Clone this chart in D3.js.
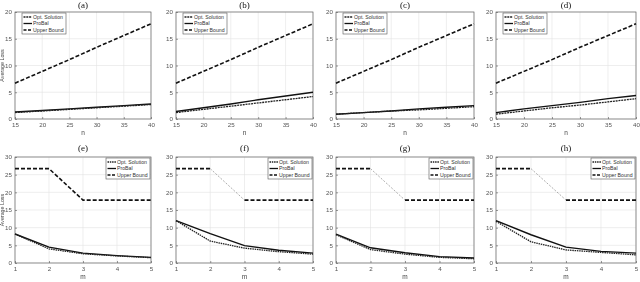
<!DOCTYPE html>
<html>
<head>
<meta charset="utf-8">
<script src="https://cdn.jsdelivr.net/npm/d3@7"></script>
<style>
  html, body { margin: 0; padding: 0; background: #fff; }
  svg { display: block; opacity: 0.999; }
</style>
</head>
<body>
<svg id="chart" width="640" height="282"></svg>
<script>
// x 取值
const nValues = [15, 20, 25, 30, 35, 40];
const mValues = [1, 2, 3, 4, 5];

// 上排 (a)-(d)：随 n 变化
const upperN = [6.7, 8.9, 11.1, 13.4, 15.6, 17.8];
const optA = [1.2, 1.5, 1.8, 2.1, 2.4, 2.7];
const proA = [1.3, 1.6, 1.9, 2.2, 2.5, 2.8];
const optB = [1.2, 1.8, 2.4, 3.0, 3.6, 4.2];
const proB = [1.4, 2.1, 2.8, 3.6, 4.3, 5.0];
const optC = [0.9, 1.2, 1.5, 1.7, 2.0, 2.3];
const proC = [0.9, 1.2, 1.5, 1.9, 2.2, 2.5];
const optD = [0.9, 1.5, 2.1, 2.6, 3.2, 3.8];
const proD = [1.2, 1.9, 2.5, 3.1, 3.8, 4.4];

// 下排 (e)-(h)：随 m 变化
const upperM = [26.7, 26.7, 17.8, 17.8, 17.8];
const optE = [8.2, 4.0, 2.6, 2.0, 1.5];
const proE = [8.2, 4.5, 2.8, 2.1, 1.6];
const optF = [12.0, 6.2, 4.2, 3.2, 2.5];
const proF = [12.0, 8.3, 4.9, 3.6, 2.8];
const optG = [8.0, 3.8, 2.5, 1.6, 1.2];
const proG = [8.2, 4.3, 2.9, 1.8, 1.4];
const optH = [11.8, 6.0, 3.7, 3.0, 2.3];
const proH = [12.0, 8.0, 4.5, 3.3, 2.8];

const titles = ['(a)', '(b)', '(c)', '(d)', '(e)', '(f)', '(g)', '(h)'];
const legendLabels = ['Opt. Solution', 'ProBal', 'Upper Bound'];
const yTicksTop = [0, 5, 10, 15, 20];
const yTicksBottom = [0, 5, 10, 15, 20, 25, 30];

const lefts = [15, 176, 336, 496];
const rights = [151, 313, 474, 636];

const panels = [
  { x: nValues, opt: optA, pro: proA, up: upperN },
  { x: nValues, opt: optB, pro: proB, up: upperN },
  { x: nValues, opt: optC, pro: proC, up: upperN },
  { x: nValues, opt: optD, pro: proD, up: upperN },
  { x: mValues, opt: optE, pro: proE, up: upperM },
  { x: mValues, opt: optF, pro: proF, up: upperM, thinSlope: true },
  { x: mValues, opt: optG, pro: proG, up: upperM, thinSlope: true },
  { x: mValues, opt: optH, pro: proH, up: upperM, thinSlope: true },
];

const svg = d3.select('#chart');
const tickFont = 'Liberation Sans, Arial, sans-serif';

panels.forEach((p, i) => {
  const row = i < 4 ? 0 : 1;
  const col = i % 4;
  const top = row === 0 ? 12 : 157;
  const bottom = row === 0 ? 119 : 263;
  const L = lefts[col], R = rights[col];
  const yMax = row === 0 ? 20 : 30;
  const x = d3.scaleLinear().domain(d3.extent(p.x)).range([L, R]);
  const y = d3.scaleLinear().domain([0, yMax]).range([bottom, top]);
  const g = svg.append('g');

  // 网格
  const xt = p.x;
  const yt = row === 0 ? yTicksTop : yTicksBottom;
  g.selectAll('line.gx').data(xt).enter().append('line')
    .attr('x1', (d) => x(d)).attr('x2', (d) => x(d)).attr('y1', top).attr('y2', bottom)
    .attr('stroke', '#e3e3e3').attr('stroke-width', 0.6);
  g.selectAll('line.gy').data(yt).enter().append('line')
    .attr('y1', (d) => y(d)).attr('y2', (d) => y(d)).attr('x1', L).attr('x2', R)
    .attr('stroke', '#e3e3e3').attr('stroke-width', 0.6);

  // 坐标轴
  const fmt = d3.format('d');
  const xAxis = d3.axisBottom(x).tickValues(xt).tickFormat(fmt).tickSize(-2).tickPadding(4);
  const yAxis = d3.axisLeft(y).tickValues(yt).tickFormat(fmt).tickSize(-2).tickPadding(3);
  const gx = g.append('g').attr('transform', `translate(0,${bottom})`).call(xAxis);
  const gy = g.append('g').attr('transform', `translate(${L},0)`).call(yAxis);
  [gx, gy].forEach((a) => {
    a.select('.domain').remove();
    a.selectAll('line').attr('stroke', '#555').attr('stroke-width', 0.6);
    a.selectAll('text').attr('font-size', 6.2).attr('font-family', tickFont).attr('fill', '#555');
  });
  g.append('rect').attr('x', L).attr('y', top).attr('width', R - L).attr('height', bottom - top)
    .attr('fill', 'none').attr('stroke', '#666').attr('stroke-width', 0.7);

  // 轴标签
  g.append('text').attr('x', (L + R) / 2).attr('y', bottom + 16).attr('text-anchor', 'middle')
    .attr('font-size', 6.5).attr('font-family', tickFont).attr('fill', '#444')
    .text(row === 0 ? 'n' : 'm');
  if (col === 0) {
    g.append('text').attr('transform', `translate(${4},${(top + bottom) / 2}) rotate(-90)`)
      .attr('text-anchor', 'middle').attr('font-size', 5.3).attr('font-family', tickFont).attr('fill', '#444')
      .text('Average Loss');
  }

  // 标题
  g.append('text').attr('x', (L + R) / 2).attr('y', top - (row === 0 ? 4 : 6)).attr('text-anchor', 'middle')
    .attr('font-size', 9).attr('font-family', 'Liberation Serif, Times New Roman, serif').attr('fill', '#111')
    .text(titles[i]);

  // 曲线
  const pts = (arr) => arr.map((v, k) => [p.x[k], v]);
  const line = d3.line().x((d) => x(d[0])).y((d) => y(d[1]));
  const optDash = row === 0 ? '2,0.8' : '1.5,0.8';
  g.append('path').attr('d', line(pts(p.pro))).attr('fill', 'none')
    .attr('stroke', '#111').attr('stroke-width', 1.4);
  g.append('path').attr('d', line(pts(p.opt))).attr('fill', 'none')
    .attr('stroke', '#222').attr('stroke-width', 1.3).attr('stroke-dasharray', optDash);
  if (p.thinSlope) {
    const up = pts(p.up);
    g.append('path').attr('d', line(up.slice(0, 2))).attr('fill', 'none')
      .attr('stroke', '#111').attr('stroke-width', 1.6).attr('stroke-dasharray', '4,2');
    g.append('path').attr('d', line(up.slice(1, 3))).attr('fill', 'none')
      .attr('stroke', '#777').attr('stroke-width', 0.6).attr('stroke-dasharray', '2,1.5');
    g.append('path').attr('d', line(up.slice(2))).attr('fill', 'none')
      .attr('stroke', '#111').attr('stroke-width', 1.6).attr('stroke-dasharray', '4,2');
  } else {
    g.append('path').attr('d', line(pts(p.up))).attr('fill', 'none')
      .attr('stroke', '#111').attr('stroke-width', 1.6).attr('stroke-dasharray', '4,2');
  }

  // 图例
  const lw = 44, lh = 21;
  const lx = row === 0 ? L + 7 : R - lw - 1;
  const ly = top + 1;
  const leg = g.append('g').attr('transform', `translate(${lx},${ly})`);
  leg.append('rect').attr('width', lw).attr('height', lh).attr('fill', '#fff')
    .attr('stroke', '#555').attr('stroke-width', 0.6);
  const styles = [
    { w: 1.3, dash: optDash, c: '#222' },
    { w: 1.3, dash: null, c: '#111' },
    { w: 1.5, dash: '3,1.5', c: '#111' },
  ];
  legendLabels.forEach((lab, k) => {
    const yy = 4 + k * 6.5;
    leg.append('line').attr('x1', 1.5).attr('x2', 10).attr('y1', yy).attr('y2', yy)
      .attr('stroke', styles[k].c).attr('stroke-width', styles[k].w)
      .attr('stroke-dasharray', styles[k].dash);
    leg.append('text').attr('x', 11).attr('y', yy + 1.8).attr('font-size', 5.2)
      .attr('font-family', tickFont).attr('fill', '#333').text(lab);
  });
});
</script>
</body>
</html>
